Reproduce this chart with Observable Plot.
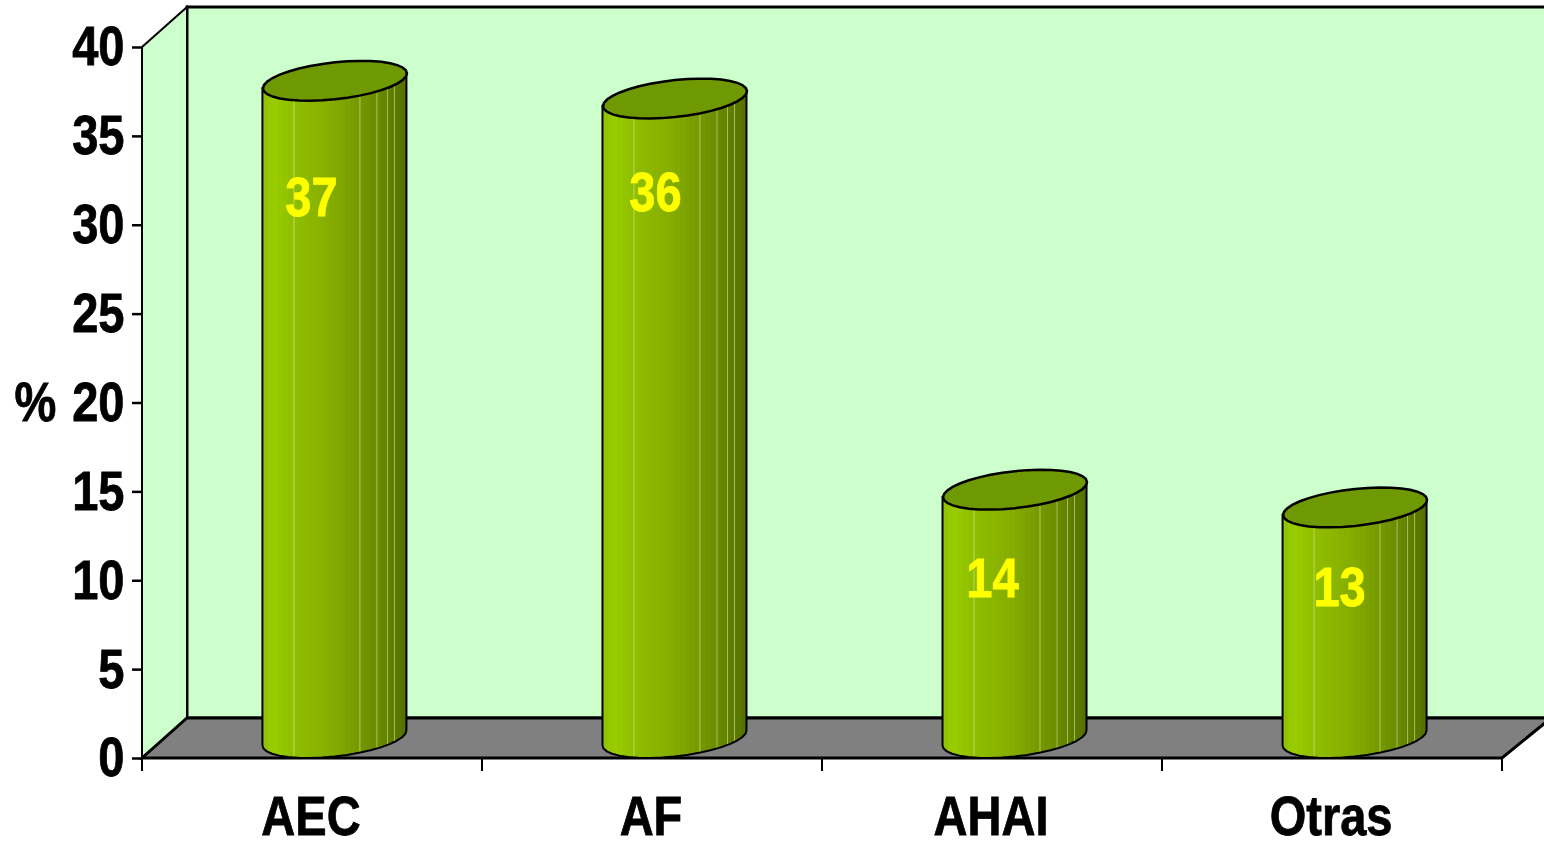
<!DOCTYPE html>
<html lang="es">
<head>
<meta charset="utf-8">
<title>Distribución por tipo (%)</title>
<script src="https://cdn.jsdelivr.net/npm/d3@7"></script>
<script src="https://cdn.jsdelivr.net/npm/@observablehq/plot@0.6"></script>
<style>
  html, body { margin: 0; padding: 0; background: #fff; }
  svg { display: block; }
</style>
</head>
<body>
<div id="chart"></div>
<script>
// Chart values
const categories = ["AEC", "AF", "AHAI", "Otras"];
const percentages = [37, 36, 14, 13];
const yTicks = [0, 5, 10, 15, 20, 25, 30, 35, 40];

const rows = categories.map((category, i) => ({category, value: percentages[i]}));

// Oblique depth of the 3D box, in pixels
const depthX = 45;
const depthY = 40;

// Cylinder ellipse: half width, shear between its two side points, and vertical half axis
const ringA = 72;
const ringK = 7.5;
const ringB = 18.5;

const ringPoint = (t) => [ringA * Math.cos(t), -ringK * Math.cos(t) + ringB * Math.sin(t)];
const ringY = (dx) => {
  const c = dx / ringA;
  return -ringK * c + ringB * Math.sqrt(Math.max(0, 1 - c * c));
};

// Tilted ellipse used as the cylinder's top face
const capSymbol = {
  draw(ctx) {
    const n = 36;
    for (let i = 0; i < n; ++i) {
      const [px, py] = ringPoint((i / n) * 2 * Math.PI);
      if (i === 0) ctx.moveTo(px, py);
      else ctx.lineTo(px, py);
    }
    ctx.closePath();
  }
};

// Stepped horizontal shading for the cylinder wall
function shadingDefs() {
  const ramp = d3.scaleLinear()
    .domain([0, 0.08, 0.2, 0.5, 0.75, 1])
    .range(["#8fc000", "#9acd00", "#90c000", "#84ab00", "#6e9000", "#557000"]);
  const defs = d3.create("svg:defs");
  const gradient = defs.append("linearGradient").attr("id", "wall").attr("x1", 0).attr("x2", 1).attr("y1", 0).attr("y2", 0);
  const bands = 28;
  for (let i = 0; i < bands; ++i) {
    const color = ramp((i + 0.5) / bands);
    gradient.append("stop").attr("offset", i / bands).attr("stop-color", color);
    gradient.append("stop").attr("offset", (i + 1) / bands).attr("stop-color", color);
  }
  return defs.node();
}

// Side wall, back wall, floor and the category separators
function room(index, scales, values, dimensions) {
  const {width, height, marginLeft, marginRight, marginTop, marginBottom} = dimensions;
  const left = marginLeft;
  const right = width - marginRight;
  const top = marginTop;
  const bottom = height - marginBottom;
  const g = d3.create("svg:g");
  const shape = (d, fill, strokeWidth = 3) =>
    g.append("path").attr("d", d).attr("fill", fill).attr("stroke", "#000").attr("stroke-width", strokeWidth);
  shape(`M${left + depthX},${top - depthY}H${width + 4}V${bottom - depthY}H${left + depthX}Z`, "#ccffcc");
  shape(`M${left},${top}L${left + depthX},${top - depthY}V${bottom - depthY}L${left},${bottom}Z`, "#ccffcc", 2);
  shape(`M${left},${bottom}L${left + depthX},${bottom - depthY}H${right + depthX + 4}L${right},${bottom}Z`, "#808080");
  const n = categories.length;
  for (let i = 0; i <= n; ++i) {
    const x = left + (i * (right - left)) / n;
    g.append("line").attr("x1", x).attr("x2", x).attr("y1", bottom).attr("y2", bottom + 13)
      .attr("stroke", "#000").attr("stroke-width", 2);
  }
  return g.node();
}

// Pale seams running down the cylinder wall, relative to its axis
const seams = [-40.5, 25.5, 42.5, 53, 60];

// Draws each bar as a cylinder wall with a rounded lower edge
function cylinderWall(index, scales, values) {
  const g = d3.create("svg:g");
  const half = scales.x.bandwidth() / 2;
  for (const i of index) {
    const cx = values.x[i] + half + depthX / 2;
    const top = values.y2[i] - depthY / 2;
    const bottom = values.y1[i] - depthY / 2;
    let d = `M${cx - ringA},${top + ringK}L${cx - ringA},${bottom + ringK}`;
    const n = 18;
    for (let k = n - 1; k >= 0; --k) {
      const [px, py] = ringPoint((k / n) * Math.PI);
      d += `L${cx + px},${bottom + py}`;
    }
    d += `L${cx + ringA},${top - ringK}Z`;
    g.append("path").attr("d", d).attr("fill", "url(#wall)").attr("stroke", "#000").attr("stroke-width", 2).attr("stroke-linejoin", "round");
    for (const dx of seams) {
      g.append("line")
        .attr("x1", cx + dx).attr("x2", cx + dx)
        .attr("y1", top).attr("y2", bottom + ringY(dx) - 1)
        .attr("stroke", "#e0f0b0").attr("stroke-opacity", 0.55).attr("stroke-width", 1);
    }
  }
  return g.node();
}

// Where each value label sits relative to the top of its bar
const labelNudge = [[-1, 97], [3, 74], [0, 69], [7, 61]];

const chart = Plot.plot({
  width: 1544,
  height: 841,
  marginLeft: 142,
  marginRight: 42,
  marginTop: 47,
  marginBottom: 83,
  style: {fontFamily: "'Liberation Sans', Arial, sans-serif", background: "#fff", overflow: "hidden", maxWidth: "none"},
  x: {type: "band", domain: categories, paddingInner: 0.5765, paddingOuter: 0.288, round: false},
  y: {domain: [0, 40]},
  marks: [
    shadingDefs,
    room,
    Plot.axisY({ticks: yTicks, tickSize: 10, tickPadding: 8, fontSize: 56, fontWeight: "bold", label: null, stroke: "#000", strokeWidth: 2.5, color: "#000"}),
    Plot.axisX({tickSize: 0, tickPadding: 37, dx: -1.5, fontSize: 56, fontWeight: "bold", label: null, color: "#000"}),
    Plot.text(["%"], {frameAnchor: "left", y: [20], dx: -128, fontSize: 56, fontWeight: "bold", fill: "#000", textAnchor: "start"}),
    Plot.barY(rows, {x: "category", y1: () => 0, y2: "value", render: cylinderWall}),
    Plot.dot(rows, {x: "category", y: "value", dx: depthX / 2, dy: -depthY / 2, r: 10, symbol: capSymbol, fill: "#6f9900", stroke: "#000", strokeWidth: 2.5}),
    ...rows.map((row, i) =>
      Plot.text([row], {x: "category", y: "value", text: (d) => String(d.value), dx: labelNudge[i][0], dy: labelNudge[i][1], fontSize: 56, fontWeight: "bold", fill: "#ffff00"})
    )
  ]
});

document.getElementById("chart").append(chart);

// All lettering is set in a condensed, slightly heavier cut of the bold face
for (const label of chart.querySelectorAll("text")) {
  label.setAttribute("textLength", label.getComputedTextLength() * 0.84);
  label.setAttribute("lengthAdjust", "spacingAndGlyphs");
  label.style.stroke = getComputedStyle(label).fill;
  label.style.strokeWidth = "0.8px";
}
</script>
</body>
</html>
